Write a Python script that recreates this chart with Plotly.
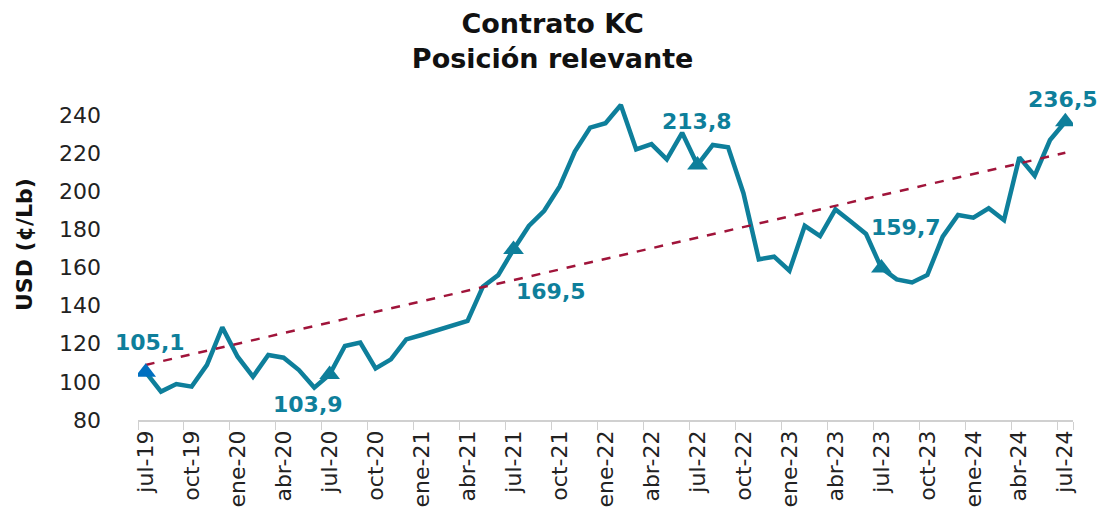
import plotly.graph_objects as go

# meses, jul-19 a jul-24
meses = ["ene", "feb", "mar", "abr", "may", "jun", "jul", "ago", "sep", "oct", "nov", "dic"]
fechas = []
for anio in range(19, 25):
    for m in meses:
        fechas.append(f"{m}-{anio}")
fechas = fechas[6:6 + 61]

precios = [
    105.1, 94.9, 98.9, 97.5, 108.9, 128.6,
    113.2, 102.7, 114.1, 112.7, 106.2, 97.0, 103.9, 118.8, 120.6, 107.1, 111.8, 122.3,
    124.6, 127.0, 129.0, 132.0, 150.0, 156.0, 169.5, 181.8, 189.8, 202.4, 220.8, 233.4,
    235.7, 245.3, 222.0, 224.8, 216.8, 230.7, 213.8, 224.3, 223.1, 199.0, 164.3, 165.7,
    158.3, 181.9, 176.5, 190.5, 184.1, 177.6, 159.7, 153.8, 152.2, 156.1, 176.2, 187.6,
    186.2, 191.1, 184.9, 217.8, 208.2, 226.9, 236.5,
]

# puntos destacados (jul de cada año)
destacados = ["jul-19", "jul-20", "jul-21", "jul-22", "jul-23", "jul-24"]
etiquetas = ["105,1", "103,9", "169,5", "213,8", "159,7", "236,5"]

# tendencia lineal (extremos)
tendencia_x = ["jul-19", "jul-24"]
tendencia_y = [108.9, 220.2]

ticks = fechas[::3]

teal = "#0E7F9B"
font = "DejaVu Sans"

fig = go.Figure()

fig.add_trace(go.Scatter(
    x=fechas, y=precios, mode="lines",
    line=dict(color=teal, width=4.5),
    showlegend=False, hoverinfo="skip",
))

fig.add_trace(go.Scatter(
    x=tendencia_x, y=tendencia_y, mode="lines",
    line=dict(color="#A0143A", width=2.5, dash="dash"),
    showlegend=False, hoverinfo="skip",
))

y_dest = [precios[fechas.index(d)] for d in destacados]
colores = ["#0070C0"] + [teal] * 5
fig.add_trace(go.Scatter(
    x=destacados, y=y_dest, mode="markers",
    marker=dict(symbol="triangle-up", size=18, color=colores),
    showlegend=False, hoverinfo="skip",
))

desplaz = [(4, 30), (-22, -30), (37, -42), (0, 43), (25, 41), (-2, 22)]
for d, v, t, (dx, dy) in zip(destacados, y_dest, etiquetas, desplaz):
    fig.add_annotation(
        x=d, y=v, text=f"<b>{t}</b>", showarrow=False,
        xshift=dx, yshift=dy,
        font=dict(family=font, size=22, color=teal),
    )

# titulo eje y
fig.add_annotation(
    xref="paper", yref="paper", x=-114 / 935, y=0.54, xanchor="center",
    text="<b>USD (¢/Lb)</b>", textangle=-90, showarrow=False,
    font=dict(family=font, size=22, color="#111"),
)

# la pagina tiene 8px de margen en body: se compensa en los margenes
fig.update_layout(
    width=1107, height=529,
    paper_bgcolor="white", plot_bgcolor="white",
    margin=dict(l=130, r=42, t=88, b=117),
    title=dict(
        text="<b>Contrato KC<br>Posición relevante</b>",
        x=0.492, xanchor="center", y=0.952, yanchor="top",
        font=dict(family=font, size=27, color="#111"),
    ),
    font=dict(family=font, color="#222"),
)

fig.update_xaxes(
    type="category", categoryorder="array", categoryarray=fechas,
    range=[-0.5, len(fechas) - 0.5], automargin=False,
    tickvals=ticks, ticktext=ticks, tickangle=-90,
    tickson="boundaries", ticks="outside", ticklen=8, tickcolor="#d0d0d0",
    showline=True, linecolor="#d0d0d0", linewidth=1.5,
    showgrid=False, tickfont=dict(size=22, color="#222"),
)

fig.update_yaxes(
    range=[80, 250], tickvals=list(range(80, 241, 20)), automargin=False,
    showgrid=False, showline=False, zeroline=False,
    tickfont=dict(size=22, color="#222"), ticks="", ticklabelstandoff=36,
)

fig.write_html("out.html")
